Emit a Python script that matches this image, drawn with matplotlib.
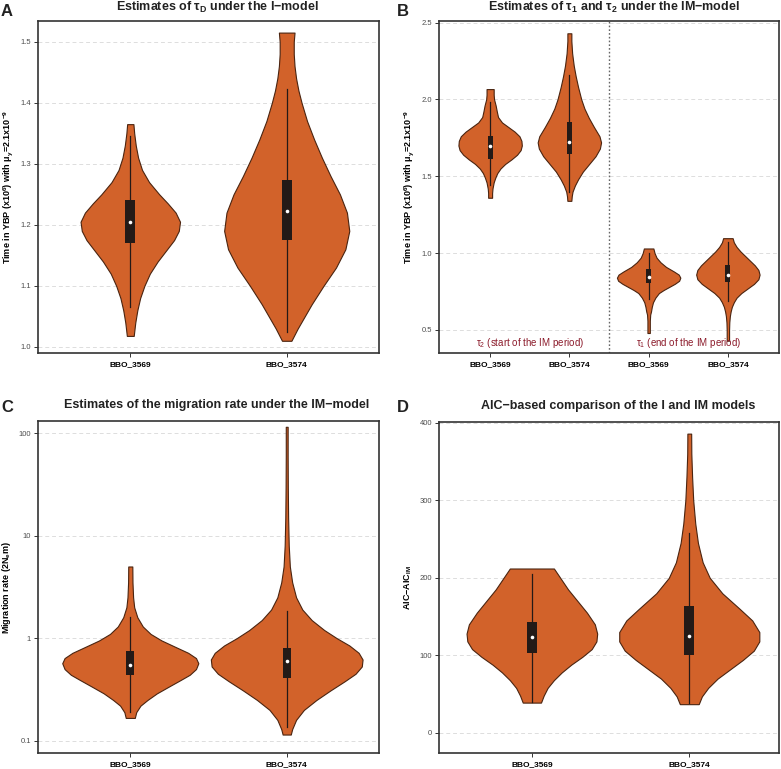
import numpy as np
import matplotlib
matplotlib.use("Agg")
import matplotlib.pyplot as plt

plt.rcParams["font.family"] = ["Liberation Sans", "DejaVu Sans"]
plt.rcParams["mathtext.default"] = "regular"

# ---- data ----
samples = ["BBO_3569", "BBO_3574"]

# panel A: tau_D (x10^6 years) - violin outline (value, half width in category units)
a1_y = [1.365, 1.35, 1.33, 1.31, 1.29, 1.27, 1.25, 1.235, 1.22, 1.205, 1.19, 1.175, 1.16, 1.14, 1.12, 1.10, 1.08, 1.06, 1.04, 1.018]
a1_w = [0.020, 0.025, 0.035, 0.050, 0.075, 0.120, 0.185, 0.240, 0.290, 0.318, 0.310, 0.280, 0.235, 0.175, 0.125, 0.090, 0.063, 0.045, 0.032, 0.022]
a2_y = [1.515, 1.50, 1.48, 1.46, 1.44, 1.42, 1.40, 1.37, 1.34, 1.31, 1.28, 1.25, 1.22, 1.19, 1.16, 1.13, 1.10, 1.07, 1.05, 1.03, 1.01]
a2_w = [0.050, 0.045, 0.045, 0.050, 0.060, 0.075, 0.095, 0.130, 0.175, 0.225, 0.280, 0.340, 0.385, 0.400, 0.375, 0.315, 0.235, 0.160, 0.115, 0.070, 0.030]
# box stats: whisker low, q1, median, q3, whisker high
a1_box = [1.065, 1.170, 1.205, 1.240, 1.345]
a2_box = [1.025, 1.175, 1.222, 1.273, 1.423]

# panel B: tau2 then tau1 for both samples
b1_y = [2.067, 2.03, 2.00, 1.96, 1.92, 1.885, 1.85, 1.82, 1.79, 1.76, 1.73, 1.70, 1.67, 1.64, 1.61, 1.58, 1.55, 1.52, 1.49, 1.46, 1.42, 1.39, 1.36]
b1_w = [0.045, 0.045, 0.050, 0.070, 0.085, 0.100, 0.150, 0.230, 0.310, 0.370, 0.395, 0.400, 0.385, 0.340, 0.270, 0.190, 0.130, 0.090, 0.065, 0.045, 0.030, 0.025, 0.025]
b2_y = [2.43, 2.38, 2.30, 2.22, 2.15, 2.08, 2.00, 1.94, 1.88, 1.82, 1.76, 1.72, 1.68, 1.63, 1.58, 1.53, 1.48, 1.44, 1.40, 1.37, 1.34]
b2_w = [0.025, 0.025, 0.035, 0.055, 0.080, 0.110, 0.150, 0.190, 0.245, 0.310, 0.380, 0.400, 0.385, 0.330, 0.250, 0.170, 0.110, 0.070, 0.040, 0.030, 0.025]
b3_y = [1.03, 1.00, 0.97, 0.94, 0.91, 0.88, 0.86, 0.84, 0.82, 0.80, 0.78, 0.76, 0.74, 0.71, 0.68, 0.65, 0.62, 0.60, 0.56, 0.52, 0.48]
b3_w = [0.060, 0.075, 0.100, 0.150, 0.220, 0.320, 0.380, 0.400, 0.385, 0.330, 0.260, 0.190, 0.130, 0.085, 0.055, 0.040, 0.030, 0.020, 0.015, 0.015, 0.015]
b4_y = [1.097, 1.07, 1.04, 1.01, 0.98, 0.95, 0.92, 0.89, 0.86, 0.83, 0.80, 0.77, 0.74, 0.71, 0.68, 0.65, 0.62, 0.59, 0.55, 0.50, 0.46, 0.43]
b4_w = [0.060, 0.075, 0.110, 0.160, 0.220, 0.280, 0.340, 0.385, 0.400, 0.385, 0.330, 0.250, 0.170, 0.110, 0.075, 0.050, 0.035, 0.025, 0.018, 0.015, 0.015, 0.015]
b1_box = [1.44, 1.61, 1.70, 1.76, 1.985]
b2_box = [1.40, 1.645, 1.725, 1.855, 2.16]
b3_box = [0.70, 0.805, 0.844, 0.896, 1.00]
b4_box = [0.69, 0.81, 0.86, 0.92, 1.07]

# panel C: migration rate 2Ne*m (log scale)
c1_y = [5.0, 3.5, 2.5, 2.0, 1.6, 1.3, 1.1, 0.95, 0.82, 0.72, 0.64, 0.57, 0.50, 0.44, 0.39, 0.34, 0.29, 0.25, 0.22, 0.19, 0.167]
c1_w = [0.013, 0.014, 0.018, 0.025, 0.045, 0.080, 0.130, 0.200, 0.290, 0.370, 0.420, 0.435, 0.420, 0.380, 0.320, 0.250, 0.170, 0.110, 0.065, 0.038, 0.029]
c2_y = [115, 60, 30, 15, 8, 5, 3.5, 2.5, 1.9, 1.5, 1.2, 1.0, 0.85, 0.72, 0.62, 0.53, 0.45, 0.38, 0.31, 0.25, 0.20, 0.16, 0.13, 0.115]
c2_w = [0.006, 0.006, 0.007, 0.009, 0.013, 0.020, 0.035, 0.060, 0.100, 0.160, 0.240, 0.320, 0.400, 0.460, 0.485, 0.480, 0.440, 0.370, 0.280, 0.190, 0.110, 0.060, 0.035, 0.026]
c1_box = [0.19, 0.44, 0.55, 0.75, 1.6]
c2_box = [0.137, 0.41, 0.60, 0.80, 1.85]

# panel D: AIC_I - AIC_IM
d1_y = [212, 200, 185, 170, 155, 140, 128, 118, 108, 98, 88, 78, 68, 58, 48, 39]
d1_w = [0.140, 0.180, 0.230, 0.290, 0.350, 0.400, 0.415, 0.410, 0.380, 0.320, 0.250, 0.190, 0.140, 0.100, 0.075, 0.058]
d2_y = [386, 360, 330, 300, 270, 245, 220, 200, 180, 160, 145, 130, 118, 106, 94, 82, 70, 58, 47, 37]
d2_w = [0.012, 0.013, 0.018, 0.025, 0.038, 0.055, 0.085, 0.130, 0.210, 0.320, 0.400, 0.445, 0.445, 0.410, 0.340, 0.260, 0.180, 0.120, 0.080, 0.060]
d1_box = [40, 103, 123, 143, 205]
d2_box = [38, 100, 125, 163, 258]

FILL = "#D2622A"
EDGE = "#4a2410"
BOX = "#231a17"


def violin(ax, pos, ys, ws, box, box_w=0.032):
    ys = np.asarray(ys, float)
    ws = np.asarray(ws, float)
    ax.fill_betweenx(ys, pos - ws, pos + ws, facecolor=FILL, edgecolor=EDGE,
                     linewidth=0.8, zorder=2)
    lo, q1, med, q3, hi = box
    ax.plot([pos, pos], [lo, hi], color=BOX, lw=0.9, zorder=3)
    ax.fill_between([pos - box_w, pos + box_w], q1, q3, color=BOX, lw=0, zorder=4)
    ax.plot([pos], [med], "o", color="white", ms=2.6, mec="none", zorder=5)


def style(ax, yticks, yticklabels, xticks, xlabels):
    ax.set_yticks(yticks)
    ax.set_yticklabels(yticklabels)
    ax.set_xticks(xticks)
    ax.set_xticklabels(xlabels, fontweight="bold", fontsize=6)
    ax.tick_params(axis="y", labelsize=5.5, labelcolor="#4d4d4d", length=3,
                   width=0.7, color="#333333", pad=2)
    ax.tick_params(axis="x", length=3, width=0.7, color="#333333", pad=3)
    ax.minorticks_off()
    for s in ax.spines.values():
        s.set_linewidth(1.2)
        s.set_color("#333333")
    for t in yticks:
        ax.axhline(t, color="#dddddd", lw=0.7, ls=(0, (4, 3)), zorder=0)


fig = plt.figure(figsize=(7.81, 7.69), dpi=100)
W, H = 781, 769


def add_axes(l, t, r, b):
    return fig.add_axes([l / W, 1 - b / H, (r - l) / W, (b - t) / H])


ylab = "Time in YBP (x10$^{6}$) with μ$_{y}$=2.1x10$^{-9}$"
ylab_kw = dict(fontsize=6.5, fontweight="bold", labelpad=4)
title_kw = dict(fontsize=9, fontweight="bold", color="#222222")

# ---- A ----
axA = add_axes(38, 21, 379, 353)
violin(axA, 1, a1_y, a1_w, a1_box)
violin(axA, 2, a2_y, a2_w, a2_box)
axA.set_xlim(0.41, 2.59)
axA.set_ylim(0.99, 1.534)
style(axA, [1.0, 1.1, 1.2, 1.3, 1.4, 1.5], ["1.0", "1.1", "1.2", "1.3", "1.4", "1.5"], [1, 2], samples)
axA.set_ylabel(ylab, **ylab_kw)

# ---- B ----
axB = add_axes(439, 21, 779, 353)
for p, yy, ww, bx in [(1, b1_y, b1_w, b1_box), (2, b2_y, b2_w, b2_box),
                      (3, b3_y, b3_w, b3_box), (4, b4_y, b4_w, b4_box)]:
    violin(axB, p, yy, ww, bx)
axB.set_xlim(0.355, 4.645)
axB.set_ylim(0.35, 2.51)
style(axB, [0.5, 1.0, 1.5, 2.0, 2.5], ["0.5", "1.0", "1.5", "2.0", "2.5"], [1, 2, 3, 4], samples * 2)
axB.axvline(2.5, color="#666666", lw=1.0, ls=(0, (1.2, 1.5)), zorder=1)
axB.set_ylabel(ylab, **ylab_kw)
axB.text(1.5, 0.008, "τ$_{2}$ (start of the IM period)", transform=axB.get_xaxis_transform(),
         ha="center", va="bottom", fontsize=7, color="#8B1A2A")
axB.text(3.5, 0.008, "τ$_{1}$ (end of the IM period)", transform=axB.get_xaxis_transform(),
         ha="center", va="bottom", fontsize=7, color="#8B1A2A")

# ---- C ----
axC = add_axes(38, 421, 379, 753)
axC.set_yscale("log")
violin(axC, 1, c1_y, c1_w, c1_box, box_w=0.026)
violin(axC, 2, c2_y, c2_w, c2_box, box_w=0.026)
axC.set_xlim(0.41, 2.59)
axC.set_ylim(0.076, 131)
style(axC, [0.1, 1, 10, 100], ["0.1", "1", "10", "100"], [1, 2], samples)
axC.set_ylabel("Migration rate (2N$_{e}$m)", **ylab_kw)

# ---- D ----
axD = add_axes(439, 422, 779, 753)
violin(axD, 1, d1_y, d1_w, d1_box)
violin(axD, 2, d2_y, d2_w, d2_box)
axD.set_xlim(0.41, 2.57)
axD.set_ylim(-26, 401)
style(axD, [0, 100, 200, 300, 400], ["0", "100", "200", "300", "400"], [1, 2], samples)
axD.set_ylabel("AIC\u2212AIC$_{IM}$", **ylab_kw)

# titles and panel letters
fig.text(217 / W, 1 - 10.5 / H, "Estimates of τ$_{D}$ under the I\u2212model", ha="center", va="baseline", **title_kw)
fig.text(614 / W, 1 - 10.5 / H, "Estimates of τ$_{1}$ and τ$_{2}$ under the IM\u2212model", ha="center", va="baseline", **title_kw)
fig.text(217 / W, 1 - 405 / H, "Estimates of the migration rate under the IM\u2212model", ha="center", va="center", **title_kw)
fig.text(618 / W, 1 - 406 / H, "AIC\u2212based comparison of the I and IM models", ha="center", va="center", **title_kw)
for lbl, x, y in [("A", 7, 11), ("B", 403, 11), ("C", 7, 407), ("D", 403, 408)]:
    fig.text(x / W, 1 - y / H, lbl, ha="center", va="center", fontsize=12, fontweight="bold", color="#222222")

fig.savefig("out.png", dpi=100)
